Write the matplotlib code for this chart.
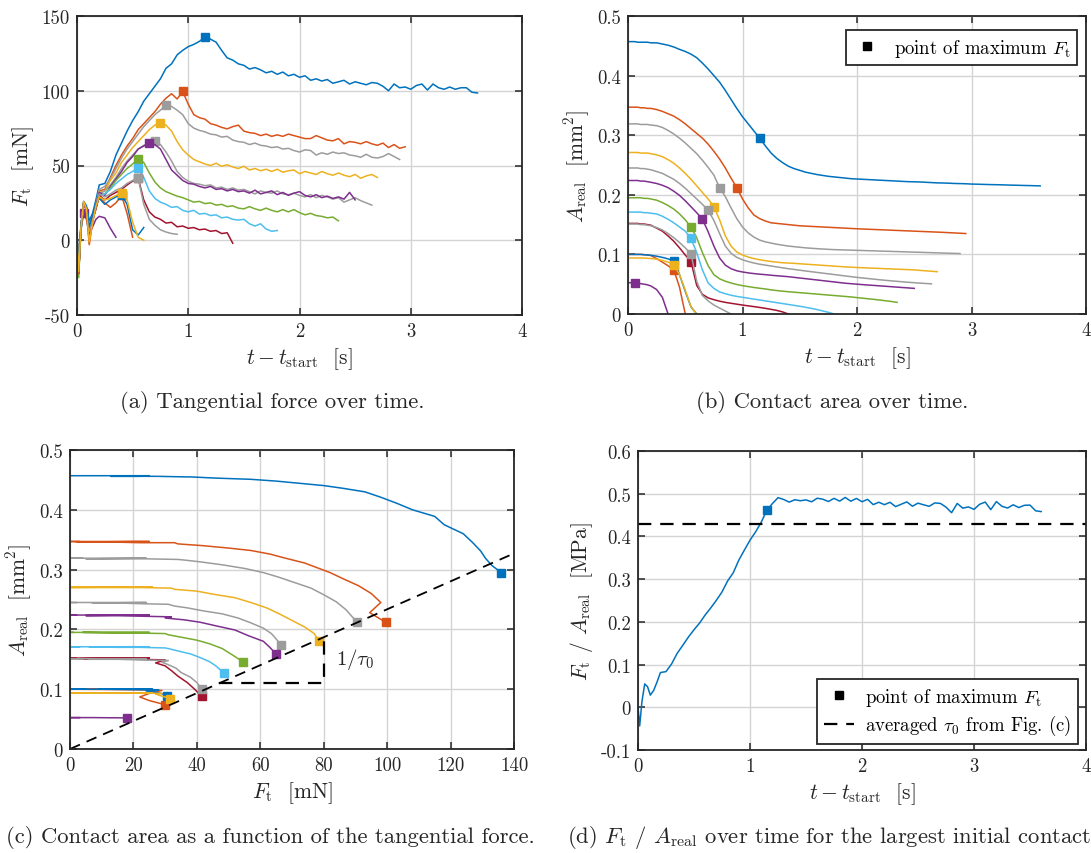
import matplotlib
matplotlib.use('Agg')
import matplotlib.pyplot as plt
import numpy as np
from matplotlib.ticker import FuncFormatter

plt.rcParams['font.family'] = 'serif'
plt.rcParams['font.serif'] = ['cmr10']
plt.rcParams['mathtext.fontset'] = 'cm'
plt.rcParams['axes.unicode_minus'] = False

# sample times [s]
t_grid = [0, 0.015, 0.035, 0.06, 0.085, 0.11, 0.14, 0.17, 0.2,
          0.25, 0.3, 0.35, 0.4, 0.45, 0.5, 0.55, 0.6, 0.65, 0.7,
          0.75, 0.8, 0.85, 0.9, 0.95, 1.0, 1.05, 1.1, 1.15, 1.2,
          1.25, 1.3, 1.35, 1.4, 1.45, 1.5, 1.55, 1.6, 1.65, 1.7,
          1.75, 1.8, 1.85, 1.9, 1.95, 2.0, 2.05, 2.1, 2.15, 2.2,
          2.25, 2.3, 2.35, 2.4, 2.45, 2.5, 2.55, 2.6, 2.65, 2.7,
          2.75, 2.8, 2.85, 2.9, 2.95, 3.0, 3.05, 3.1, 3.15, 3.2,
          3.25, 3.3, 3.35, 3.4, 3.45, 3.5, 3.55, 3.6]

# tangential force [mN] and real contact area [mm^2] per test
F1 = [0, -20, 6, 25, 22, 13, 18, 27, 37,
      38, 46, 57, 65, 73, 80, 86, 93, 98, 103,
      108, 115, 118, 124, 127, 129.5, 131, 133, 136, 134.5,
      132.5, 127, 122, 120.5, 118, 117, 114.5, 115.5, 114, 112,
      113, 111, 112.5, 110, 111, 109, 110, 107, 108, 106.5,
      107.5, 105, 106, 107, 104.5, 106, 105, 104, 105.5, 105,
      103, 100, 104.5, 102, 102.5, 101, 103.5, 104.5, 100.5, 104.5,
      102, 101, 102.5, 101, 102, 102, 99, 98.5]
A1 = [.457, .457, .457, .457, .456, .456, .456, .456, .455,
      .455, .453, .451, .448, .444, .4405, .436, .430, .421, .411,
      .400, .389, .375, .360, .345, .331, .319, .307, .295, .282,
      .270, .261, .254, .248, .244, .241, .238, .236, .234, .2325,
      .231, .230, .229, .228, .227, .2265, .226, .2255, .225, .2245,
      .224, .2235, .223, .2225, .222, .2218, .2215, .221, .2205, .220,
      .2198, .2195, .219, .2188, .2185, .218, .2178, .2175, .2172, .217,
      .2168, .2165, .2162, .216, .2157, .2155, .2152, .215]

F2 = [3, -22, 9, 25, 20, 2, 14, 22, 33,
      34, 42, 50, 57, 63, 68, 74, 78, 82, 86,
      91, 95, 98, 94.5, 99.5, 91, 84, 82, 81, 78,
      77, 75.5, 74.5, 76, 77, 73, 72, 71.5, 70, 71,
      69.5, 70.5, 69.5, 71, 70, 69, 68, 68, 70, 68.5,
      67, 66.5, 68, 64.5, 66, 65.5, 64.5, 66, 64.5, 63.5,
      65, 62, 64, 61.5, 62.5]
A2 = [.347, .347, .347, .347, .347, .346, .346, .345, .345,
      .343, .340, .336, .332, .326, .319, .311, .303, .295, .285,
      .273, .260, .245, .228, .212, .193, .178, .166, .160, .156,
      .153, .152, .151, .150, .149, .148, .1475, .147, .1465, .146,
      .1455, .145, .1445, .144, .1435, .143, .1426, .1422, .1418, .1414,
      .141, .1406, .1402, .1398, .1394, .139, .1386, .1382, .1378, .1374,
      .137, .1365, .136, .1355, .135]

F3 = [4, -21, 8, 24, 21, 5, 15, 24, 34,
      36, 41, 48, 55, 61, 66, 71, 76, 80, 84,
      87, 90.5, 89.5, 87, 84, 78, 75, 73.5, 72.5, 71,
      70.5, 69, 69.5, 67, 66, 65.5, 64, 65, 63.5, 63,
      62, 62.5, 61, 61.5, 60, 59, 60.5, 60, 57, 58.5,
      57.5, 59, 58, 58.5, 57, 56.5, 55.5, 57.5, 55.5, 55,
      56, 58, 56, 54]
A3 = [.319, .319, .319, .319, .319, .318, .318, .318, .317,
      .316, .313, .308, .302, .295, .287, .278, .269, .258, .246,
      .233, .212, .197, .178, .160, .146, .136, .129, .124, .121,
      .119, .117, .1155, .114, .113, .112, .111, .1103, .1096, .109,
      .1085, .108, .1077, .1074, .1071, .1068, .1065, .1062, .1059, .1056,
      .1053, .105, .1047, .1044, .1041, .1038, .1035, .1032, .1029, .1026,
      .1023, .102, .1017, .1014]

F4 = [3, -23, 7, 26, 20, -2, 13, 22, 32,
      33, 40, 45, 52, 57, 62, 66, 70, 74, 77,
      78.5, 77, 73, 66, 60.5, 57, 54, 52.5, 51, 50,
      51.5, 49.5, 50.5, 49, 48, 49.5, 47, 48, 46.5, 47.5,
      46, 47.5, 45.5, 46.5, 47, 44.5, 46, 45, 44, 46,
      44.5, 43.5, 45, 43.5, 42.5, 44, 41.5, 43, 44, 42]
A4 = [.271, .271, .271, .271, .271, .270, .270, .270, .269,
      .267, .264, .259, .253, .245, .236, .226, .215, .204, .193,
      .180, .158, .131, .114, .104, .099, .0955, .093, .091, .0895,
      .088, .087, .086, .0855, .085, .0843, .0836, .083, .0823, .0817,
      .081, .0803, .0797, .079, .0785, .078, .0776, .0772, .0768, .0764,
      .076, .0756, .0752, .0748, .0744, .074, .0732, .0724, .0717, .071]

F5 = [2, -20, 9, 24, 22, 7, 16, 22, 31,
      33, 37, 42, 48, 53, 57, 61, 63.5, 65, 66.5,
      64, 59, 53, 46, 42, 39.5, 38, 37.5, 36.5, 37,
      35, 35.5, 34, 35, 33.5, 34, 32.5, 31, 33, 32,
      31.5, 33, 31, 30.5, 31.5, 30, 29, 30.5, 28.5, 30,
      29, 27.5, 28.5, 25.5, 27, 28.5, 26.5, 25, 23.5]
A5 = [.245, .245, .245, .245, .245, .244, .244, .243, .242,
      .239, .236, .231, .226, .219, .211, .202, .193, .184, .174,
      .157, .135, .114, .102, .095, .091, .088, .0855, .0835, .082,
      .0805, .079, .0775, .076, .0748, .0735, .0722, .071, .0698, .0686,
      .0674, .0662, .065, .0638, .0626, .0614, .0604, .0594, .0584, .0574,
      .0565, .0556, .0548, .054, .0532, .0525, .0518, .0512, .0506]

F6 = [2, -21, 8, 25, 21, 5, 14, 23, 32,
      30, 36, 41, 46, 52, 56, 61, 63, 65, 64,
      61, 54, 47, 43.5, 40, 38, 37.5, 36, 35, 36,
      34, 34.5, 33, 34, 32.5, 33, 31.5, 33.5, 31, 32,
      33, 30.5, 32, 30, 31.5, 32.5, 30, 29, 30.5, 28.5,
      29.5, 28, 29, 27.5, 32, 27]
A6 = [.224, .224, .224, .224, .224, .223, .223, .222, .221,
      .219, .216, .212, .206, .199, .190, .180, .170, .159, .138,
      .114, .094, .082, .076, .0725, .0705, .069, .0678, .0668, .066,
      .065, .0642, .0634, .0626, .0615, .0604, .0593, .0582, .0571, .056,
      .0549, .0538, .0527, .0516, .0508, .05, .0493, .0486, .0479, .0472,
      .0465, .0458, .0451, .0444, .0437, .043]

F7 = [1, -25, 6, 25, 21, 4, 14, 21, 30,
      31, 35, 40, 44, 48, 51, 54.5, 52, 45, 39,
      35, 32.5, 31, 29.5, 28.5, 27, 25.5, 26, 24.5, 25,
      23.5, 24, 22.5, 23, 21.5, 21, 22.5, 21, 20, 21.5,
      20, 19, 20.5, 19, 20.5, 18.5, 17, 18, 16.5, 16,
      15, 15.5, 13]
A7 = [.195, .195, .195, .195, .195, .195, .194, .194, .193,
      .191, .187, .182, .176, .168, .158, .146, .128, .103, .081,
      .066, .059, .055, .052, .0495, .0475, .046, .0445, .0432, .042,
      .0405, .0393, .0383, .0374, .0366, .0358, .035, .0342, .0334, .0326,
      .0318, .031, .0302, .0294, .0286, .0275, .0265, .0255, .0245, .0234,
      .0222, .021, .0195]

F8 = [3, -22, 7, 25, 22, 6, 15, 22, 30,
      31, 34, 38, 41, 44, 46, 48.5, 42, 33, 28,
      25.5, 24, 22, 22.5, 20, 19, 20, 17.5, 18, 16.5,
      17, 15, 15.5, 14, 13.5, 14, 11, 9.5, 11, 7.5,
      6, 6.5]
A8 = [.171, .171, .171, .171, .171, .171, .170, .170, .169,
      .168, .164, .159, .153, .146, .139, .127, .103, .074, .052,
      .043, .037, .034, .0315, .0295, .028, .0265, .025, .0235, .022,
      .0205, .019, .0175, .016, .0145, .013, .0113, .0095, .0075, .0052,
      .0028, 0]

F9 = [2, -22, 8, 25, 20, 3, 13, 21, 30,
      27, 30, 32, 34, 37, 39.5, 41.5, 27, 19, 15.5,
      14, 11.5, 12, 9, 9.5, 8, 8.5, 7, 7.5, 6,
      6.5, 4.5, 5, -2]
A9 = [.152, .152, .152, .152, .152, .151, .151, .150, .149,
      .144, .139, .131, .122, .111, .099, .088, .048, .033, .027,
      .024, .0215, .0195, .018, .0165, .015, .0137, .0124, .011, .0095,
      .0078, .006, .0035, 0]

F10 = [4, -20, 9, 24, 21, 6, 15, 22, 31,
       29, 31, 33.5, 35, 38, 40, 41.5, 24, 14, 10,
       7, 5.5, 4.5, 4]
A10 = [.151, .151, .151, .151, .151, .150, .150, .149, .148,
       .145, .141, .135, .128, .120, .111, .101, .055, .031, .022,
       .015, .010, .005, 0]

F11 = [5, -19, 10, 26, 23, 9, 17, 24, 28,
       24, 27, 29, 30.5, 24, 7, 3.5, 8.5]
A11 = [.100, .100, .100, .100, .100, .100, .0995, .099, .0985,
       .097, .095, .0925, .089, .066, .038, .012, 0]

F12 = [3, -22, 8, 25, 20, -3, 12, 22, 29,
       25, 22, 25, 30, 18, 2]
A12 = [.1, .1, .1, .1, .1, .1, .0995, .099, .098,
       .093, .087, .081, .074, .045, 0]

F13 = [2, -21, 8, 26, 21, -1, 12, 23, 29,
       27, 28, 30, 31.5, 27, 12, 2, 0]
A13 = [.094, .094, .094, .094, .094, .094, .0938, .0935, .093,
       .092, .09, .087, .083, .066, .04, .012, 0]

F14 = [3, -20, 7, 18, 14, 4, 9, 14, 16,
       15, 8, 2]
A14 = [.0525, .0525, .0525, .052, .0515, .051, .05, .049, .047,
       .041, .028, 0]

tau0 = 0.428  # averaged shear strength [MPa]

blue, orange, yellow = '#0072BD', '#D95319', '#EDB120'
purple, green, lblue, dred, gray = '#7E2F8E', '#77AC30', '#4DBEEE', '#A2142F', '#9c9c9c'

runs = [(F14, A14, purple), (F1, A1, blue), (F2, A2, orange), (F3, A3, gray),
        (F4, A4, yellow), (F5, A5, gray), (F6, A6, purple), (F7, A7, green),
        (F8, A8, lblue), (F9, A9, dred), (F10, A10, gray), (F12, A12, orange),
        (F11, A11, blue), (F13, A13, yellow)]

W, H = 1091, 854
fig = plt.figure(figsize=(W / 100, H / 100), dpi=100)
ax_a = fig.add_axes([77 / W, 1 - 316 / H, 445 / W, 299 / H])
ax_b = fig.add_axes([628 / W, 1 - 315 / H, 458 / W, 298 / H])
ax_c = fig.add_axes([70 / W, 1 - 750 / H, 444 / W, 299 / H])
ax_d = fig.add_axes([638 / W, 1 - 751 / H, 448 / W, 299 / H])

fmt = FuncFormatter(lambda v, p: f'{v:g}')
for ax in (ax_a, ax_b, ax_c, ax_d):
    ax.grid(True, color='#d4d4d4', lw=1.0)
    ax.set_axisbelow(True)
    ax.tick_params(direction='in', top=True, right=True, length=5, width=1.1,
                   labelsize=13.5, colors='#262626', pad=5)
    for s in ax.spines.values():
        s.set_linewidth(1.3)
        s.set_color('#262626')
    ax.xaxis.set_major_formatter(fmt)
    ax.yaxis.set_major_formatter(fmt)

lw = 1.1
ms = 6
for F, A, col in runs:
    n = min(len(F), len(A))
    t = np.array(t_grid[:n])
    F = np.array(F[:n], dtype=float)
    A = np.array(A[:n], dtype=float)
    k = int(np.argmax(F))
    ax_a.plot(t, F, color=col, lw=lw)
    ax_a.plot(t[k], F[k], 's', color=col, ms=ms)
    ax_b.plot(t, A, color=col, lw=lw)
    ax_b.plot(t[k], A[k], 's', color=col, ms=ms)
    ax_c.plot(F[:k + 1], A[:k + 1], color=col, lw=lw)
    ax_c.plot(F[k], A[k], 's', color=col, ms=ms)

# (d) ratio for the largest initial contact
n1 = min(len(F1), len(A1))
t1 = np.array(t_grid[:n1])
r1 = np.array(F1[:n1]) / np.array(A1[:n1]) / 1000.0
k1 = int(np.argmax(F1[:n1]))
ax_d.plot(t1, r1, color=blue, lw=lw)
ax_d.plot(t1[k1], r1[k1], 's', color=blue, ms=ms)
ax_d.plot([], [], 's', color='k', ms=ms, label=r'point of maximum $F_\mathrm{t}$')
ax_d.plot([0, 4], [tau0, tau0], '--', color='k', lw=1.6, dashes=(6, 4),
          label=r'averaged $\tau_0$ from Fig. (c)')

# (c) slope 1/tau0
fx = np.array([0, 140])
ax_c.plot(fx, fx / (tau0 * 1000), '--', color='k', lw=1.3, dashes=(6, 4))
a_low = 0.11
f_low = a_low * tau0 * 1000
ax_c.plot([f_low, 80, 80], [a_low, a_low, 80 / (tau0 * 1000)], '--', color='k',
          lw=1.6, dashes=(6, 4))
ax_c.text(84, 0.151, r'$1/\tau_0$', fontsize=15, va='center', color='#262626')

ax_b.plot([], [], 's', color='k', ms=ms, label=r'point of maximum $F_\mathrm{t}$')

# limits, ticks, labels
lab = dict(fontsize=15.5, color='#262626')
ax_a.set_xlim(0, 4)
ax_a.set_ylim(-50, 150)
ax_a.set_xticks([0, 1, 2, 3, 4])
ax_a.set_yticks([-50, 0, 50, 100, 150])
ax_a.set_xlabel(r'$t - t_\mathrm{start}$  [s]', **lab)
ax_a.set_ylabel(r'$F_\mathrm{t}$  [mN]', **lab)

ax_b.set_xlim(0, 4)
ax_b.set_ylim(0, 0.5)
ax_b.set_xticks([0, 1, 2, 3, 4])
ax_b.set_yticks([0, 0.1, 0.2, 0.3, 0.4, 0.5])
ax_b.set_xlabel(r'$t - t_\mathrm{start}$  [s]', **lab)
ax_b.set_ylabel(r'$A_\mathrm{real}$  [mm$^2$]', **lab)

ax_c.set_xlim(0, 140)
ax_c.set_ylim(0, 0.5)
ax_c.set_xticks(range(0, 141, 20))
ax_c.set_yticks([0, 0.1, 0.2, 0.3, 0.4, 0.5])
ax_c.set_xlabel(r'$F_\mathrm{t}$  [mN]', **lab)
ax_c.set_ylabel(r'$A_\mathrm{real}$  [mm$^2$]', **lab)

ax_d.set_xlim(0, 4)
ax_d.set_ylim(-0.1, 0.6)
ax_d.set_xticks([0, 1, 2, 3, 4])
ax_d.set_yticks([-0.1, 0, 0.1, 0.2, 0.3, 0.4, 0.5, 0.6])
ax_d.set_xlabel(r'$t - t_\mathrm{start}$  [s]', **lab)
ax_d.set_ylabel(r'$F_\mathrm{t}$ / $A_\mathrm{real}$  [MPa]', **lab)

leg_kw = dict(fontsize=13.5, frameon=True, fancybox=False, framealpha=1,
              edgecolor='#262626', borderpad=0.35, handlelength=1.6,
              handletextpad=0.6, borderaxespad=0)
lb = ax_b.legend(loc='upper right', bbox_to_anchor=(0.98, 0.953), **leg_kw)
lb.get_frame().set_linewidth(1.3)
ld = ax_d.legend(loc='lower right', bbox_to_anchor=(0.982, 0.02), labelspacing=0.3, **leg_kw)
ld.get_frame().set_linewidth(1.3)

cap = dict(fontsize=16.3, color='#262626', va='center')
fig.text(272 / W, 1 - 403 / H, '(a) Tangential force over time.', ha='center', **cap)
fig.text(832 / W, 1 - 403 / H, '(b) Contact area over time.', ha='center', **cap)
fig.text(270 / W, 1 - 838 / H, '(c) Contact area as a function of the tangential force.',
         ha='center', **cap)
fig.text(567 / W, 1 - 838 / H,
         r'(d) $F_\mathrm{t}$ / $A_\mathrm{real}$ over time for the largest initial contact',
         ha='left', **cap)

fig.savefig('out.png', dpi=100)
